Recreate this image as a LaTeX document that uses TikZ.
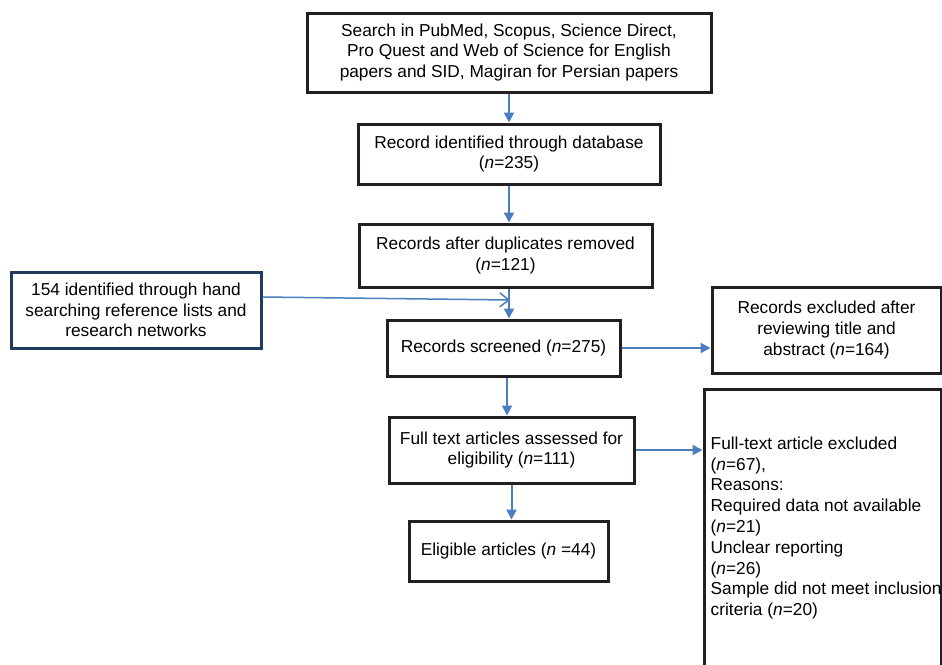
\documentclass[tikz,border=0pt]{standalone}
\usepackage{fontspec}
\setmainfont{Liberation Sans}
\usetikzlibrary{arrows.meta,calc}
\definecolor{boxc}{HTML}{231F20}
\definecolor{navyc}{HTML}{203A5C}
\definecolor{arrc}{HTML}{4A7EBF}
\newcommand{\diafont}{\fontsize{17.3}{20.8}\selectfont}
\begin{document}
\begin{tikzpicture}[x=1pt,y=-1pt]
\tikzset{
  box/.style={draw=boxc, line width=3pt, fill=white, align=center, inner sep=0pt, font=\diafont},
  navybox/.style={box, draw=navyc},
  arr/.style={draw=arrc, line width=2pt, -{Triangle[length=10pt,width=10pt]}},
  openarr/.style={draw=arrc, line width=1.5pt, -{Straight Barb[length=9pt,width=14pt,line width=1.5pt]}}
}
\useasboundingbox (0,0) rectangle (942,664);
\clip (0,0) rectangle (942,664);
\fill[white] (0,0) rectangle (942,664);

\node[box, minimum width=404pt, minimum height=79pt] (b1) at (509,52.5)
  {Search in PubMed, Scopus, Science Direct,\\Pro Quest and Web of Science for English\\papers and SID, Magiran for Persian papers};
\node[box, minimum width=302pt, minimum height=60pt] (b2) at (509,154)
  {Record identified through database\\(\textit{n}=235)};
\node[box, minimum width=293pt, minimum height=63pt] (b3) at (505.5,255.5)
  {Records after duplicates removed\\(\textit{n}=121)};
\node[navybox, minimum width=250pt, minimum height=76pt] (lb) at (136,310)
  {154 identified through hand\\searching reference lists and\\research networks};
\node[box, minimum width=233pt, minimum height=56pt] (b4) at (503.5,348)
  {Records screened (\textit{n}=275)};
\node[box, minimum width=229pt, minimum height=86pt] (b5) at (826.5,330)
  {Records excluded after\\reviewing title and\\abstract (\textit{n}=164)};
\node[box, minimum width=237pt, minimum height=278pt] (b6) at (822.5,528) {};
\node[anchor=west, align=left, inner sep=0pt, font=\diafont] (b6t) at ([xshift=8pt]b6.west)
  {Full-text article excluded\\(\textit{n}=67),\\Reasons:\\Required data not available\\(\textit{n}=21)\\Unclear reporting\\(\textit{n}=26)\\Sample did not meet inclusion\\criteria (\textit{n}=20)};
\node[box, minimum width=245pt, minimum height=66pt] (b7) at (511.5,450)
  {Full text articles assessed for\\eligibility (\textit{n}=111)};
\node[box, minimum width=199pt, minimum height=60pt] (b8) at (508.5,551)
  {Eligible articles (\textit{n} =44)};

\coordinate (m) at (510,300);
\draw[arr] (b1.south) -- (b2.north);
\draw[arr] (b2.south) -- (b2.south |- b3.north);
\draw[arr] ([xshift=3.5pt]b3.south) -- ([xshift=3.5pt]b3.south |- b4.north);
\draw[openarr] ([yshift=13pt]lb.east) -- (m);
\draw[arr] (b4.east) -- (b4.east -| b5.west);
\draw[arr] ([xshift=3.5pt]b4.south) -- ([xshift=3.5pt]b4.south |- b7.north);
\draw[arr] (b7.south) -- (b7.south |- b8.north);
\draw[arr] (b7.east) -- (b7.east -| b6.west);
\end{tikzpicture}
\end{document}
